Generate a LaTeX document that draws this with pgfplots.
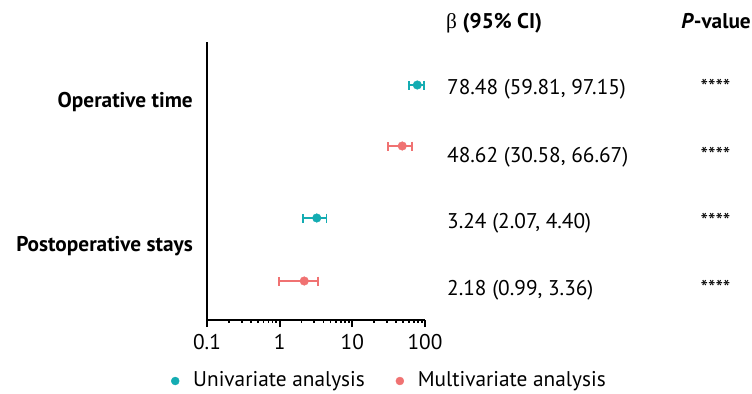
\documentclass[border=0pt]{standalone}
\usepackage{pgfplots}
\pgfplotsset{compat=1.18}
\usepackage{pgfplotstable}
\usepackage{fontspec}
\setmainfont{PT Sans}
\newfontfamily\greekfont{Liberation Serif}
\definecolor{uni}{RGB}{20,172,178}
\definecolor{multi}{RGB}{240,114,114}
\newcommand{\fs}{\fontsize{21.3bp}{25bp}\selectfont}
\pgfplotstableread{
x y ep em
78.48 235 18.67 18.67
3.24 102 1.16 1.17
}\unitab
\pgfplotstableread{
x y ep em
48.62 174 18.05 18.04
2.18 39 1.18 1.19
}\multab
\begin{document}
\fs
\begin{tikzpicture}
\path[use as bounding box] (0,0) rectangle (752bp,-394bp);
\begin{axis}[
  at={(207bp,-320bp)}, anchor=south west,
  scale only axis, width=218bp, height=278bp,
  xmode=log, xmin=0.1, xmax=100, ymin=0, ymax=278,
  axis lines=left,
  axis line style={line width=1.7bp, -},
  xtick={0.1,1,10,100}, xticklabels={0.1,1,10,100},
  tick align=outside, major tick length=7bp,
  xtick style={line width=1.7bp, black},
  minor xtick={},
  ytick={217.5,73.5}, yticklabels={Operative time,Postoperative stays},
  ytick style={draw=none},
  yticklabel style={font=\fs\bfseries, inner sep=0pt, xshift=-7bp},
  xticklabel style={font=\fs, inner sep=0pt, yshift=-7bp},
  clip=false,
  legend columns=2,
  legend style={at={(-0.165,-0.2194)}, anchor=west, draw=none, fill=none, inner sep=0pt,
    font=\fs,
    /tikz/every odd column/.append style={column sep=12bp},
    /tikz/every even column/.append style={column sep=29bp}},
  legend image code/.code={\draw[#1, mark size=4bp] plot coordinates {(0bp,0bp)};},
]
\addplot[only marks, mark=*, mark size=4.3bp, color=uni,
  error bars/.cd, x dir=both, x explicit,
  error bar style={line width=1.8bp, color=uni},
  error mark options={rotate=90, mark size=4.5bp, line width=1.8bp, color=uni}]
  table[x=x, y=y, x error plus=ep, x error minus=em]{\unitab};
\addlegendentry{Univariate analysis}
\addplot[only marks, mark=*, mark size=4.3bp, color=multi,
  error bars/.cd, x dir=both, x explicit,
  error bar style={line width=1.8bp, color=multi},
  error mark options={rotate=90, mark size=4.5bp, line width=1.8bp, color=multi}]
  table[x=x, y=y, x error plus=ep, x error minus=em]{\multab};
\addlegendentry{Multivariate analysis}
\end{axis}
\node[anchor=base west, inner sep=0pt] at (446bp,-28bp) {{\greekfont β} \textbf{(95\% CI)}};
\node[anchor=base east, inner sep=0pt] at (751bp,-28bp) {\textbf{\textit{P}-value}};
\node[anchor=base west, inner sep=0pt] at (447bp,-94bp) {78.48 (59.81, 97.15)};
\node[anchor=base west, inner sep=0pt] at (447bp,-162bp) {48.62 (30.58, 66.67)};
\node[anchor=base west, inner sep=0pt] at (447bp,-228bp) {3.24 (2.07, 4.40)};
\node[anchor=base west, inner sep=0pt] at (447bp,-295bp) {2.18 (0.99, 3.36)};
\foreach \yy in {-94,-162,-228,-295} \node[anchor=base, inner sep=0pt] at (715.5bp,\yy bp) {****};
\end{tikzpicture}
\end{document}
